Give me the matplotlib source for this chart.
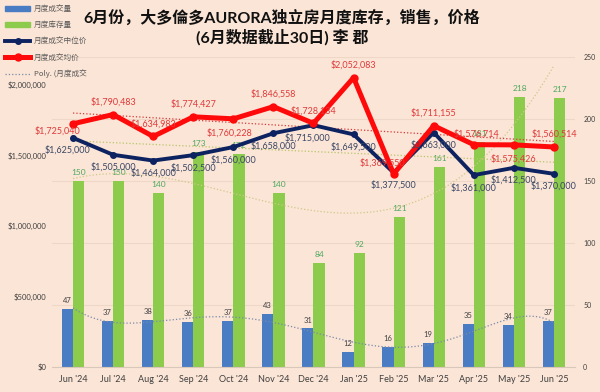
import numpy as np
import matplotlib
matplotlib.use('Agg')
import matplotlib.pyplot as plt
from matplotlib.lines import Line2D
from matplotlib.patches import Patch

# data
months = ["Jun '24", "Jul '24", "Aug '24", "Sep '24", "Oct '24", "Nov '24", "Dec '24",
          "Jan '25", "Feb '25", "Mar '25", "Apr '25", "May '25", "Jun '25"]
sales = [47, 37, 38, 36, 37, 43, 31, 12, 16, 19, 35, 34, 37]
inventory = [150, 150, 140, 173, 172, 140, 84, 92, 121, 161, 181, 218, 217]
median_price = [1625000, 1505000, 1464000, 1502500, 1560000, 1658000, 1715000,
                1649500, 1377500, 1663000, 1361000, 1412500, 1370000]
avg_price = [1725040, 1790483, 1634983, 1774427, 1760228, 1846558, 1728134,
             2052083, 1369550, 1711155, 1576714, 1575426, 1560514]

bg = '#FBE5D6'
c_blue = '#4A7CC4'
c_green = '#8CCB4C'
c_navy = '#0D2260'
c_red = '#FF0A0A'
latin = ['Lato', 'Noto Sans CJK SC']
cjk = ['Noto Sans CJK SC', 'DejaVu Sans']

fig = plt.figure(figsize=(6, 3.92), dpi=100, facecolor=bg)
ax = fig.add_axes([0.087, 0.064, 0.871, 0.791])  # bars, right-hand scale
ax.set_facecolor(bg)
ax2 = ax.twinx()  # prices, left-hand scale

x = np.arange(len(months))
w = 0.28
ax.bar(x - w / 2, sales, width=w, color=c_blue, zorder=2)
ax.bar(x + w / 2, inventory, width=w, color=c_green, zorder=2)
for i in range(len(x)):
    ax.text(x[i] - w / 2, sales[i] + 4, str(sales[i]), ha='center', va='bottom',
            fontsize=5.5, color='#404040', family=latin, zorder=3)
    ax.text(x[i] + w / 2, inventory[i] + 4, str(inventory[i]), ha='center', va='bottom',
            fontsize=6, color='#4EA860', family=latin, zorder=3)

# polynomial trendlines (like excel)
xs = np.linspace(0, len(x) - 1, 200)
ax.plot(xs, np.polyval(np.polyfit(x, sales, 6), xs), ls=':', lw=0.9, color='#7A8BA8', zorder=3)
ax.plot(xs, np.polyval(np.polyfit(x, inventory, 3), xs), ls=':', lw=0.9, color='#CFC98A', zorder=3)
ax2.plot(xs, np.polyval(np.polyfit(x, avg_price, 1), xs), ls=':', lw=0.9, color='#D83A3A', zorder=1)
ax2.plot(xs, np.polyval(np.polyfit(x, median_price, 1), xs), ls=':', lw=0.9, color='#B9C56A', zorder=1)

ax2.plot(x, median_price, color=c_navy, lw=2.8, marker='o', ms=4, zorder=4)
ax2.plot(x, avg_price, color=c_red, lw=3.6, marker='o', ms=5, zorder=5)

# label offsets in points
red_off = [(-11, -5), (0, 9), (0, 9), (0, 9), (-3, -10), (0, 9), (0, 9),
           (0, 9), (-8, 8), (0, 9), (2, 8), (0, -10), (0, 9)]
for i in range(len(x)):
    ax2.annotate(f'${avg_price[i]:,}', (x[i], avg_price[i]), xytext=red_off[i],
                 textcoords='offset points', ha='center', va='center',
                 fontsize=6.5, color='#E03A3A', family=latin, zorder=6)
    dx = -4 if i == 0 else (-4 if i == 6 else 0)
    ax2.annotate(f'${median_price[i]:,}', (x[i], median_price[i]), xytext=(dx, -9),
                 textcoords='offset points', ha='center', va='center',
                 fontsize=6.5, color='#3A4766', family=latin, zorder=6)

ax.set_xlim(-0.52, len(x) - 0.48)
ax.set_ylim(0, 250)
ax.set_yticks(range(0, 251, 50))
ax2.set_ylim(0, 2200000)
ax2.set_yticks(range(0, 2000001, 500000))
ax2.set_yticklabels([f'${v:,}' for v in range(0, 2000001, 500000)])
ax.yaxis.tick_right()
ax2.yaxis.tick_left()
ax.grid(axis='y', color='#EED7C6', lw=0.8, zorder=0)
ax.set_axisbelow(True)
ax.set_xticks(x)
ax.set_xticklabels(months, family=latin, fontsize=6.5, color='#404040')
for a in (ax, ax2):
    for s in a.spines.values():
        s.set_visible(False)
    a.tick_params(length=0)
ax.spines['bottom'].set_visible(True)
ax.spines['bottom'].set_color('#D9C8BA')
ax.tick_params(axis='x', pad=6)
ax.tick_params(axis='y', labelsize=5, labelcolor='#404040', pad=6)
ax2.tick_params(axis='y', labelsize=5.5, labelcolor='#404040', pad=4)
for t in ax2.get_yticklabels() + ax.get_yticklabels():
    t.set_family(latin)

fig.text(0.47, 0.955, '6月份，大多倫多AURORA独立房月度库存，销售，价格', ha='center', va='center',
         fontsize=11.5, fontweight='bold', family=latin, color='#111111')
fig.text(0.47, 0.905, '(6月数据截止30日) 李 郡', ha='center', va='center',
         fontsize=11.5, fontweight='bold', family=latin, color='#111111')

handles = [Patch(color=c_blue), Patch(color=c_green),
           Line2D([], [], color=c_navy, lw=2.8, marker='o', ms=4),
           Line2D([], [], color=c_red, lw=3.6, marker='o', ms=5),
           Line2D([], [], color='#7A8BA8', lw=0.9, ls=':')]
labels = ['月度成交量', '月度库存量', '月度成交中位价', '月度成交均价', 'Poly. (月度成交']
leg = fig.legend(handles, labels, loc='upper left', bbox_to_anchor=(0.0, 1.0), frameon=False,
                 prop={'family': cjk, 'size': 5.5}, handlelength=3.2, handleheight=0.6,
                 labelspacing=1.05, borderaxespad=0.3, handletextpad=0.5)
for t in leg.get_texts():
    t.set_color('#595959')

fig.savefig('out.png', dpi=100, facecolor=bg)
